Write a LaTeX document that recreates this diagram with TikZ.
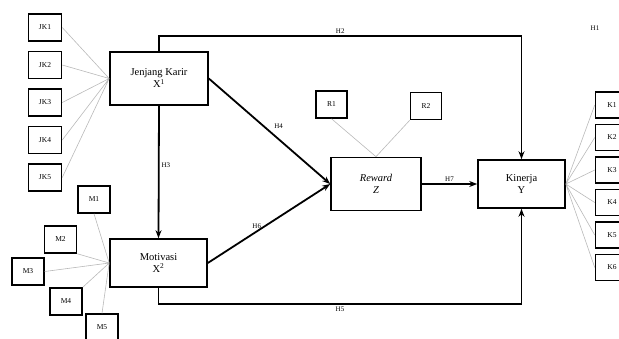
\documentclass[tikz,border=0pt]{standalone}
\usepackage{fontspec}
\setmainfont{Liberation Serif}
\usetikzlibrary{positioning, arrows.meta}
\tikzset{
  construct/.style={
    rectangle, draw, line width=1.6pt, inner sep=1pt,
    align=center, font=\fontsize{10.5}{12}\selectfont
  },
  indicator/.style={
    rectangle, draw, line width=1.5pt, inner sep=0pt,
    minimum width=33pt, minimum height=27pt, font=\fontsize{7.5}{8}\selectfont
  },
  hypline/.style={draw, line width=1.8pt, -{Stealth[length=8pt,width=6pt]}},
  loading/.style={draw, gray!55, line width=0.6pt},
  hyp/.style={font=\fontsize{7}{8}\selectfont, inner sep=2pt},
}
\begin{document}
\begin{tikzpicture}[x=1pt, y=-1pt]
  \useasboundingbox (0,0) rectangle (619,338);
  % constructs
  \node[construct, minimum width=98pt, minimum height=53pt] (JK) at (159,78.5) {Jenjang Karir\\X\textsuperscript{1}};
  \node[construct, minimum width=97pt, minimum height=48pt] (Mot) at (158.5,263) {Motivasi\\X\textsuperscript{2}};
  \node[construct, minimum width=90pt, minimum height=53pt] (Rew) at (376,184) {\textit{Reward}\\\textit{Z}};
  \node[construct, minimum width=87pt, minimum height=48pt] (Kin) at (521.5,184) {Kinerja\\Y};
  % indicators
  \node[indicator] (JK1) at (45,27.5) {JK1};
  \node[indicator, below=9pt of JK1] (JK2) {JK2};
  \node[indicator, below=9pt of JK2] (JK3) {JK3};
  \node[indicator, below=9pt of JK3] (JK4) {JK4};
  \node[indicator, below=9pt of JK4] (JK5) {JK5};
  \node[indicator, minimum width=32pt] (M1) at (94,199.5) {M1};
  \node[indicator, minimum width=32pt] (M2) at (60.5,239.5) {M2};
  \node[indicator, minimum width=32pt] (M3) at (28,271.5) {M3};
  \node[indicator, minimum width=32pt] (M4) at (66,301.5) {M4};
  \node[indicator, minimum width=32pt] (M5) at (102,327.5) {M5};
  \node[indicator, minimum width=31pt] (R1) at (331.5,104.5) {R1};
  \node[indicator, minimum width=31pt] (R2) at (426,106) {R2};
  \node[indicator, minimum height=26pt] (K1) at (612,105) {K1};
  \node[indicator, minimum height=26pt, below=5pt of K1] (K2) {K2};
  \node[indicator, minimum height=26pt, below=5pt of K2] (K3) {K3};
  \node[indicator, minimum height=26pt, below=5pt of K3] (K4) {K4};
  \node[indicator, minimum height=26pt, below=5pt of K4] (K5) {K5};
  \node[indicator, minimum height=26pt, below=5pt of K5] (K6) {K6};
  % loadings
  \path[loading] (JK1.east) -- (JK.west) (JK2.east) -- (JK.west) (JK3.east) -- (JK.west)
                 (JK4.east) -- (JK.west) (JK5.east) -- (JK.west);
  \path[loading] (M1.south) -- (Mot.west) (M2.south east) -- (Mot.west) (M3.east) -- (Mot.west)
                 (M4.north east) -- (Mot.west) (M5.north) -- (Mot.west);
  \path[loading] (R1.south) -- (Rew.north) (R2.south west) -- (Rew.north);
  \path[loading] (Kin.east) -- (K1.west) (Kin.east) -- (K2.west) (Kin.east) -- (K3.west)
                 (Kin.east) -- (K4.west) (Kin.east) -- (K5.west) (Kin.east) -- (K6.west);
  % hypotheses
  \path[hypline] (JK.north) -- ++(0,-15) -| node[hyp, pos=0.25, above] {H2} (Kin.north);
  \path[hypline] (JK.south) -- node[hyp, pos=0.45, right] {H3} (Mot.north);
  \path[hypline] (JK.east) -- node[hyp, midway, above right=0pt and 2pt] {H4} (Rew.west);
  \path[hypline] (Mot.south) -- ++(0,16) -| node[hyp, pos=0.25, below] {H5} (Kin.south);
  \path[hypline] (Mot.east) -- node[hyp, pos=0.4, above] {H6} (Rew.west);
  \path[hypline] (Rew.east) -- node[hyp, midway, above] {H7} (Kin.west);
  \node[hyp] (H1) at (595,28) {H1};
\end{tikzpicture}
\end{document}
